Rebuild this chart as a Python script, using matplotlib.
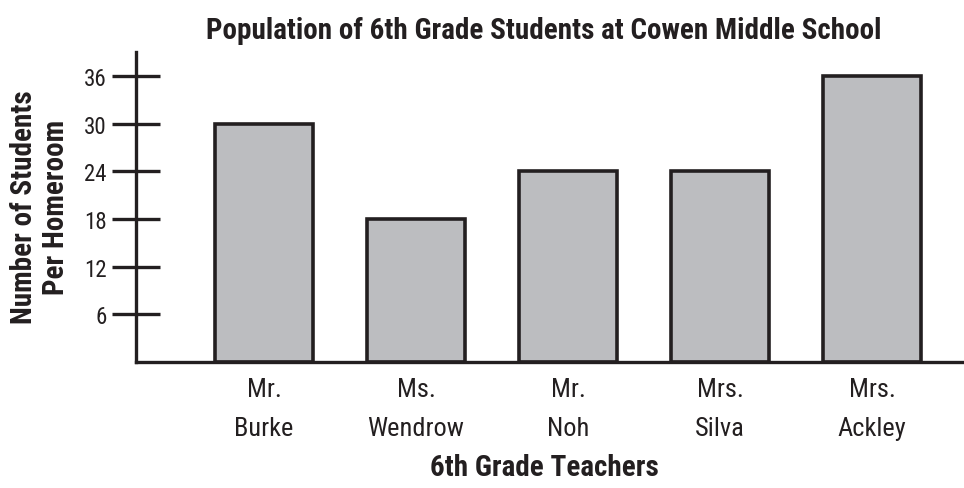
import matplotlib.pyplot as plt

# data
teachers = ['Mr.\nBurke', 'Ms.\nWendrow', 'Mr.\nNoh', 'Mrs.\nSilva', 'Mrs.\nAckley']
students = [30, 18, 24, 24, 36]
y_ticks = [6, 12, 18, 24, 30, 36]

plt.rcParams['font.family'] = ['Roboto Condensed', 'DejaVu Sans']

fig = plt.figure(figsize=(9.64, 4.89), dpi=100)
ax = fig.add_axes([136 / 964, 126 / 489, 828 / 964, 310 / 489])

x = list(range(len(teachers)))
ax.bar(x, students, width=0.64, color='#bcbdc0', edgecolor='#231f20', linewidth=2.6)

ax.set_xlim(-0.842, 4.605)
ax.set_ylim(0, 39)

ax.spines['top'].set_visible(False)
ax.spines['right'].set_visible(False)
ax.spines['left'].set_linewidth(2.4)
ax.spines['bottom'].set_linewidth(2.4)
ax.spines['left'].set_color('#231f20')
ax.spines['bottom'].set_color('#231f20')

ax.set_yticks(y_ticks)
ax.set_yticklabels([str(v) for v in y_ticks], fontsize=16.5, color='#231f20')
ax.tick_params(axis='y', direction='inout', length=34, width=2.4, color='#231f20', pad=4)

ax.set_xticks(x)
ax.set_xticklabels(teachers, fontsize=19, color='#231f20', linespacing=1.8)
ax.tick_params(axis='x', length=0, pad=11)

fig.text(0.564, 0.937, 'Population of 6th Grade Students at Cowen Middle School',
         ha='center', va='center', fontsize=21, fontweight='bold', color='#231f20')
fig.text(0.565, 0.043, '6th Grade Teachers', ha='center', va='center',
         fontsize=21, fontweight='bold', color='#231f20')
fig.text(0.0415, 0.576, 'Number of Students\nPer Homeroom', ha='center', va='center',
         rotation=90, fontsize=21, fontweight='bold', color='#231f20', linespacing=1.15)

fig.savefig('out.png', dpi=100)
